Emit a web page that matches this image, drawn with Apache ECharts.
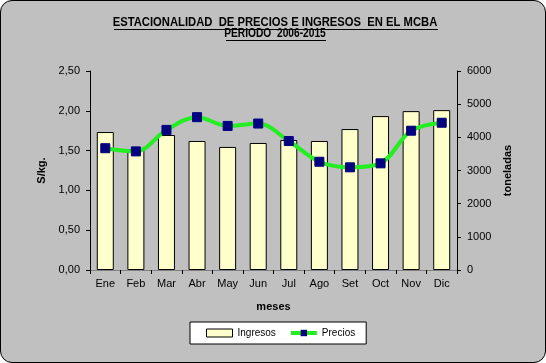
<!DOCTYPE html>
<html><head><meta charset="utf-8">
<script src="https://cdn.jsdelivr.net/npm/echarts@6/dist/echarts.min.js"></script>
<style>
html,body{margin:0;padding:0;background:#fff;}
#c{width:546px;height:363px;box-sizing:border-box;border:1px solid #000;border-radius:12px;background:#c0c0c0;overflow:hidden;}
</style></head>
<body><div id="c"></div>
<script>
const categories = ['Ene','Feb','Mar','Abr','May','Jun','Jul','Ago','Set','Oct','Nov','Dic'];
const ingresos = [4160,3640,4070,3890,3710,3830,3920,3890,4250,4640,4790,4820];
const precios = [1.53,1.49,1.76,1.92,1.81,1.84,1.62,1.36,1.29,1.34,1.75,1.85];
const leftTicks = {min:0,max:2.5,interval:0.5};
const rightTicks = {min:0,max:6000,interval:1000};
const titleText = 'ESTACIONALIDAD  DE PRECIOS E INGRESOS  EN EL MCBA';
const subtitleText = 'PERIODO  2006-2015';

const chart = echarts.init(document.getElementById('c'), null, {renderer:'canvas'});
const F = 'Arial, "Liberation Sans", sans-serif';
chart.setOption({
  animation:false,
  backgroundColor:'transparent',
  graphic:[
    {type:'text',x:274,y:21.5,scaleX:0.865,style:{text:titleText,x:0,y:0,align:'center',verticalAlign:'middle',font:'bold 13px Arial, "Liberation Sans", sans-serif',fill:'#000'}},
    {type:'text',x:274,y:33,scaleX:0.85,style:{text:subtitleText,x:0,y:0,align:'center',verticalAlign:'middle',font:'bold 12px Arial, "Liberation Sans", sans-serif',fill:'#000'}},
    {type:'line',shape:{x1:113,y1:28.5,x2:437,y2:28.5},style:{stroke:'#000',lineWidth:1}},
    {type:'line',shape:{x1:225,y1:39.5,x2:325,y2:39.5},style:{stroke:'#000',lineWidth:1}}
  ],
  grid:{left:89,right:88,top:70,bottom:92,containLabel:false},
  legend:{
    left:189,top:321,
    backgroundColor:'#fff',borderColor:'#000',borderWidth:1,
    padding:[6,11,6,16],itemGap:13,itemWidth:26,itemHeight:8,
    lineStyle:{width:4},
    textStyle:{fontFamily:F,fontSize:10,color:'#000'},
    data:[
      {name:'Ingresos',icon:'rect',itemStyle:{color:'#ffffcc',borderColor:'#000',borderWidth:1}},
      {name:'Precios',lineStyle:{width:4,color:'#22ee22'},itemStyle:{color:'#000080'}}
    ]
  },
  xAxis:[
    {type:'category',data:categories,position:'bottom',
     name:'meses',nameLocation:'middle',nameGap:31,
     nameTextStyle:{fontFamily:F,fontSize:11,fontWeight:'bold',color:'#000'},
     axisLine:{lineStyle:{color:'#000',width:1}},
     axisTick:{show:true,length:4,lineStyle:{color:'#000'}},
     axisLabel:{fontFamily:F,fontSize:11,color:'#000',margin:8}},
    {type:'category',data:categories,position:'top',
     axisLine:{lineStyle:{color:'#808080',width:1}},axisTick:{show:false},axisLabel:{show:false}}
  ],
  yAxis:[
    {type:'value',position:'left',min:leftTicks.min,max:leftTicks.max,interval:leftTicks.interval,
     name:'S/kg.',nameLocation:'middle',nameGap:37,nameRotate:90,
     nameTextStyle:{fontFamily:F,fontSize:11,fontWeight:'bold',color:'#000'},
     axisLine:{show:true,lineStyle:{color:'#000'}},
     axisTick:{show:true,length:4,lineStyle:{color:'#000'}},
     splitLine:{show:false},
     axisLabel:{fontFamily:F,fontSize:11,color:'#000',margin:10,formatter:v=>v.toFixed(2).replace('.',',')}},
    {type:'value',position:'right',min:rightTicks.min,max:rightTicks.max,interval:rightTicks.interval,
     name:'toneladas',nameLocation:'middle',nameGap:38,nameRotate:90,
     nameTextStyle:{fontFamily:F,fontSize:11,fontWeight:'bold',color:'#000'},
     axisLine:{show:true,lineStyle:{color:'#000'}},
     axisTick:{show:true,length:4,lineStyle:{color:'#000'}},
     splitLine:{show:false},
     axisLabel:{fontFamily:F,fontSize:11,color:'#000',margin:10,formatter:v=>String(v)}}
  ],
  series:[
    {name:'Ingresos',type:'bar',yAxisIndex:1,data:ingresos,barWidth:17,
     itemStyle:{color:'#ffffcc',borderColor:'#000',borderWidth:1}},
    {name:'Precios',type:'line',yAxisIndex:0,data:precios,smooth:0.35,
     symbol:'rect',symbolSize:9,
     lineStyle:{color:'#22ee22',width:4},
     itemStyle:{color:'#000080',borderColor:'#000080'}}
  ]
});
</script></body></html>
